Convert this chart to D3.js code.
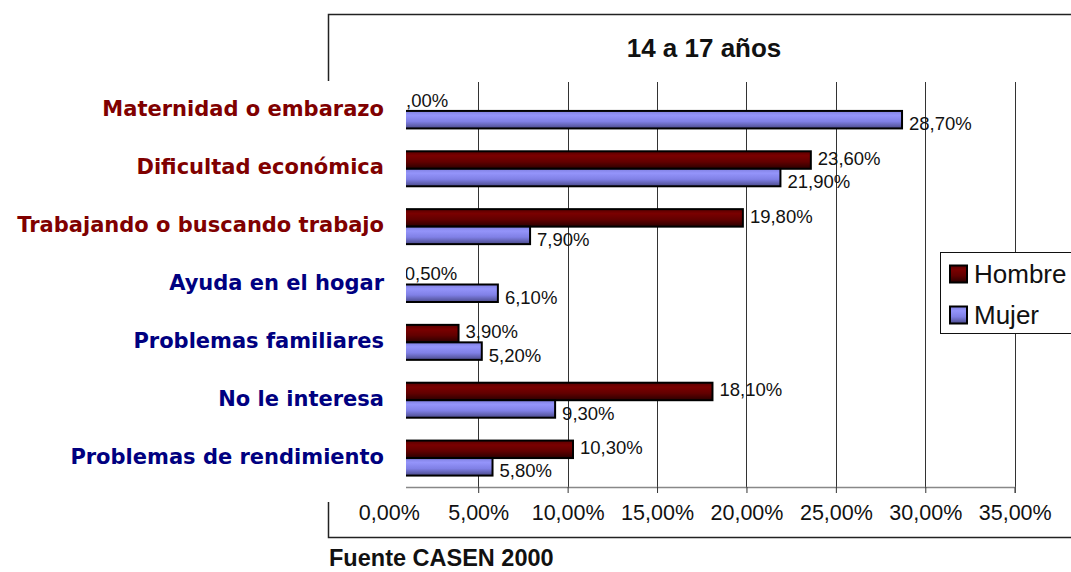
<!DOCTYPE html>
<html>
<head>
<meta charset="utf-8">
<script src="https://cdn.jsdelivr.net/npm/d3@7"></script>
<style>
html,body{margin:0;padding:0;background:#fff;}
svg{display:block;}
</style>
</head>
<body>
<svg id="chart" width="1071" height="572"></svg>
<script>
const categories = ["Maternidad o embarazo","Dificultad económica","Trabajando o buscando trabajo","Ayuda en el hogar","Problemas familiares","No le interesa","Problemas de rendimiento"];
const seriesNames = ["Hombre","Mujer"];
const hombre = [0.0, 23.6, 19.8, 0.5, 3.9, 18.1, 10.3];
const mujer = [28.7, 21.9, 7.9, 6.1, 5.2, 9.3, 5.8];
const tickValues = [0,5,10,15,20,25,30,35];
const title = "14 a 17 años";
const source = "Fuente CASEN 2000";

const svg = d3.select("#chart");
const W = 1071, H = 572;
const locale = d3.formatLocale({decimal: ",", thousands: ".", grouping: [3], currency: ["", ""]});
const fmt = v => locale.format(".2f")(v) + "%";

const x = d3.scaleLinear().domain([0,35]).range([388.8, 1014.7]);
const y = d3.scaleBand().domain(categories).range([82, 487]).padding(0);
const barH = 17.5;
const sub = d3.scaleBand().domain(seriesNames).range([-barH, barH]);

// gradients
const defs = svg.append("defs");
const gradH = defs.append("linearGradient").attr("id","gH").attr("x1",0).attr("y1",0).attr("x2",0).attr("y2",1);
[["0%","#5a0000"],["25%","#7a0000"],["60%","#620000"],["100%","#2a0000"]].forEach(s=>gradH.append("stop").attr("offset",s[0]).attr("stop-color",s[1]));
const gradM = defs.append("linearGradient").attr("id","gM").attr("x1",0).attr("y1",0).attr("x2",0).attr("y2",1);
[["0%","#8080e0"],["25%","#9494fa"],["60%","#8080e6"],["100%","#4a4a8a"]].forEach(s=>gradM.append("stop").attr("offset",s[0]).attr("stop-color",s[1]));
const fills = {Hombre:"url(#gH)", Mujer:"url(#gM)"};

// outer frame
svg.append("path")
  .attr("d", `M${W+5},14.5 H328.5 V537.5 H${W+5}`)
  .attr("fill","none").attr("stroke","#222").attr("stroke-width",1.5);

// title
svg.append("text").attr("x",704).attr("y",57)
  .attr("text-anchor","middle")
  .attr("font-family","'Liberation Sans', Arial, sans-serif")
  .attr("font-weight","bold").attr("font-size",26)
  .attr("fill","#111").text(title);

// gridlines
svg.append("g").selectAll("line").data(tickValues).join("line")
  .attr("x1", d=>Math.round(x(d))+0.5).attr("x2", d=>Math.round(x(d))+0.5)
  .attr("y1", 82).attr("y2", 487)
  .attr("stroke","#333").attr("stroke-width",1);

// x axis
const axis = d3.axisBottom(x).tickValues(tickValues).tickFormat(fmt).tickSize(6).tickPadding(12);
const gx = svg.append("g").attr("transform","translate(0,487)").call(axis);
gx.select(".domain").attr("stroke","#888").attr("stroke-width",1.5);
gx.selectAll(".tick line").attr("stroke","#333");
gx.selectAll(".tick text")
  .attr("font-family","'Liberation Sans', Arial, sans-serif")
  .attr("font-size",21.5).attr("fill","#111");

// bars
const rows = categories.map((c,i)=>({c, values:[{s:"Hombre", v:hombre[i]},{s:"Mujer", v:mujer[i]}]}));
const groups = svg.append("g").selectAll("g").data(rows).join("g")
  .attr("transform", d=>`translate(0,${y(d.c)+y.bandwidth()/2})`);
groups.selectAll("rect").data(d=>d.values).join("rect")
  .attr("x", x(0))
  .attr("y", d=>sub(d.s))
  .attr("width", d=>Math.max(0, x(d.v)-x(0)))
  .attr("height", sub.bandwidth())
  .attr("fill", d=>fills[d.s])
  .attr("stroke","#000").attr("stroke-width",2);

// value labels
groups.selectAll("text").data(d=>d.values).join("text")
  .attr("x", d=>x(d.v)+7)
  .attr("y", d=>sub(d.s)+sub.bandwidth()/2 + (d.s==="Hombre"?-2:4))
  .attr("dy","0.36em")
  .attr("font-family","'Liberation Sans', Arial, sans-serif")
  .attr("font-size",18.5).attr("fill","#111")
  .text(d=>fmt(d.v));

// category label area (covers plot's left part, as in reference)
svg.append("rect").attr("x",0).attr("y",81).attr("width",406).attr("height",421).attr("fill","#fff");

svg.append("g").selectAll("text").data(categories).join("text")
  .attr("x",384)
  .attr("y", d=>y(d)+y.bandwidth()/2 - 2)
  .attr("dy","0.36em")
  .attr("text-anchor","end")
  .attr("font-family","'DejaVu Sans',sans-serif")
  .attr("font-weight","bold").attr("font-size",21)
  .attr("fill",(d,i)=> i<3 ? "#800000" : "#000080")
  .text(d=>d);

// legend
const lg = svg.append("g");
lg.append("rect").attr("x",940.5).attr("y",252.5).attr("width",140).attr("height",81)
  .attr("fill","#fff").attr("stroke","#111").attr("stroke-width",1);
const li = lg.selectAll("g").data(seriesNames).join("g")
  .attr("transform",(d,i)=>`translate(0,${274 + i*41})`);
li.append("rect").attr("x",950).attr("y",-8.5).attr("width",17).attr("height",17)
  .attr("fill",d=>fills[d]).attr("stroke","#000").attr("stroke-width",2);
li.append("text").attr("x",974).attr("y",0).attr("dy","0.36em")
  .attr("font-family","'Liberation Sans', Arial, sans-serif")
  .attr("font-size",26).attr("fill","#111").text(d=>d);

// source
svg.append("text").attr("x",329).attr("y",566)
  .attr("font-family","'Liberation Sans', Arial, sans-serif")
  .attr("font-weight","bold").attr("font-size",23.5)
  .attr("fill","#111").text(source);
</script>
</body>
</html>
